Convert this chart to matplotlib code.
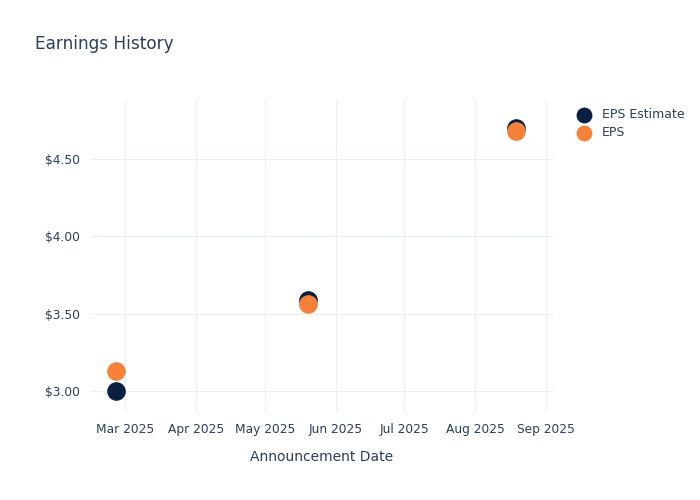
import numpy as np
import matplotlib.pyplot as plt
import matplotlib.dates as mdates

# data
dates = np.array(['2025-02-25', '2025-05-20', '2025-08-19'], dtype='datetime64[D]')
eps_estimate = [3.00, 3.59, 4.70]
eps_actual = [3.13, 3.56, 4.68]

navy = '#0b1f41'
orange = '#f6813a'
txt = '#2a3f5f'
grid = '#ebeff8'

fig = plt.figure(figsize=(7, 5), dpi=100)
ax = fig.add_axes([91/700, 88/500, (553-91)/700, (400-88)/500])

ax.scatter(dates, eps_estimate, s=180, color=navy, label='EPS Estimate', zorder=3, linewidths=0)
ax.scatter(dates, eps_actual, s=180, color=orange, label='EPS', zorder=4, linewidths=0)

ax.set_xlim(np.datetime64('2025-02-14'), np.datetime64('2025-09-04'))
ax.set_ylim(2.864, 4.88)
ax.set_yticks([3.0, 3.5, 4.0, 4.5])
ax.yaxis.set_major_formatter(plt.FuncFormatter(lambda v, p: '${:.2f}'.format(v)))
ax.xaxis.set_major_locator(mdates.MonthLocator())
ax.xaxis.set_major_formatter(mdates.DateFormatter('%b %Y'))

ax.grid(True, color=grid, linewidth=0.8)
ax.set_axisbelow(True)
for s in ax.spines.values():
    s.set_visible(False)
ax.tick_params(length=0, labelsize=8.8, colors=txt, pad=8)

ax.set_xlabel('Announcement Date', fontsize=10, color=txt, labelpad=10)
fig.text(35/700, 1-44/500, 'Earnings History', fontsize=12.2, color=txt, va='center')

leg = ax.legend(loc='upper left', bbox_to_anchor=(1.03, 0.99), frameon=False,
                fontsize=9, labelcolor=txt, handletextpad=0.4, borderaxespad=0,
                labelspacing=0.42, markerscale=0.85)

plt.savefig('out.png', dpi=100)
